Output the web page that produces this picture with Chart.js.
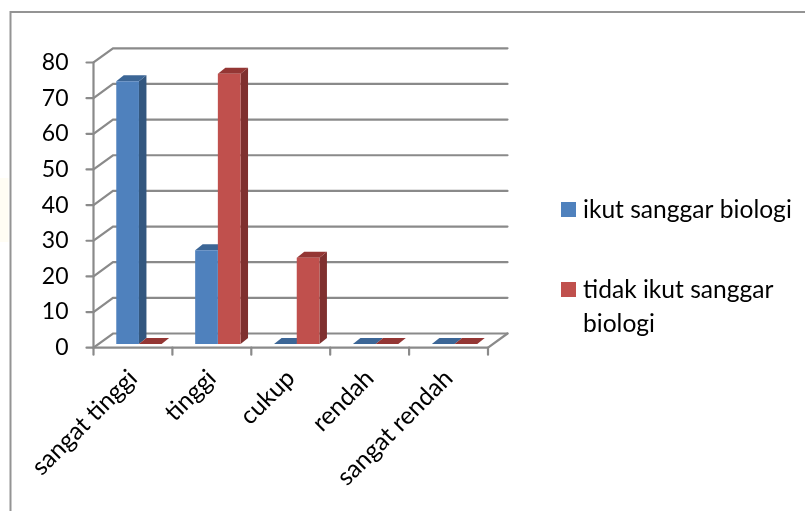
<!DOCTYPE html>
<html><head><meta charset="utf-8">
<style>html,body{margin:0;padding:0;background:#fff}canvas{display:block}</style>
<script src="https://cdn.jsdelivr.net/npm/chart.js@4"></script>
</head><body><canvas id="c" width="805" height="511"></canvas>
<script>
const categories = ["sangat tinggi","tinggi","cukup","rendah","sangat rendah"];
const ikutValues = [73.7,26.3,0,0,0];
const tidakValues = [0,75.8,24.2,0,0];
const seriesNames = ["ikut sanggar biologi","tidak ikut sanggar biologi"];
const legendLines = [["ikut sanggar biologi"],["tidak ikut sanggar","biologi"]];
const yTicks = [0,10,20,30,40,50,60,70,80];
const FONT = 'Lato';
const FS_Y = 23;
const FS = 24.6;
const GRID = '#8a8a8a';
const shades = [
 {front:'#4F81BD',side:'#33577F',top:'#3C6696'},
 {front:'#C0504D',side:'#7F302F',top:'#943634'}
];
const depth = {x:19.5,y:14.2};      // floor depth
const barOff = {x:6,y:3.8};         // bar front plane offset
const barD = {x:7.5,y:6};           // bar depth
function poly(ctx,pts,fill){ctx.beginPath();pts.forEach((p,i)=>i?ctx.lineTo(p[0],p[1]):ctx.moveTo(p[0],p[1]));ctx.closePath();ctx.fillStyle=fill;ctx.fill();}
const frame3d = {
 id:'frame3d',
 beforeDraw(chart){
  const ctx=chart.ctx;
  ctx.save();ctx.fillStyle='#fff';ctx.fillRect(0,0,805,511);
  ctx.fillStyle='#FFFDF4';ctx.fillRect(0,178,8.5,64);
  ctx.strokeStyle='#949494';ctx.lineWidth=2;
  ctx.beginPath();ctx.moveTo(10.5,511);ctx.lineTo(10.5,12);ctx.lineTo(805,12);ctx.stroke();
  ctx.restore();
 },
 beforeDatasetsDraw(chart){
  const ctx=chart.ctx,{x,y}=chart.scales,a=chart.chartArea;
  ctx.save();ctx.strokeStyle=GRID;ctx.lineWidth=2.2;ctx.lineCap='round';
  yTicks.forEach(v=>{
   const py=y.getPixelForValue(v);
   ctx.beginPath();ctx.moveTo(a.left-7,py);ctx.lineTo(a.left,py);
   ctx.lineTo(a.left+depth.x,py-depth.y);ctx.lineTo(a.right+depth.x,py-depth.y);ctx.stroke();
  });
  ctx.beginPath();ctx.moveTo(a.left,y.getPixelForValue(80));ctx.lineTo(a.left,a.bottom);ctx.lineTo(a.right,a.bottom);
  ctx.lineTo(a.right+depth.x,a.bottom-depth.y);ctx.stroke();
  for(let i=0;i<=categories.length;i++){
   const px=a.left+(a.right-a.left)*i/categories.length;
   ctx.beginPath();ctx.moveTo(px,a.bottom);ctx.lineTo(px,a.bottom+7);ctx.stroke();
  }
  ctx.restore();
  ctx.save();ctx.translate(barOff.x,-barOff.y);
  chart.data.datasets.forEach((ds,di)=>{
   chart.getDatasetMeta(di).data.forEach(el=>{
    const l=el.x-el.width/2,r=el.x+el.width/2,t=el.y,b=el.base,s=shades[di];
    poly(ctx,[[r,t],[r+barD.x,t-barD.y],[r+barD.x,b-barD.y],[r,b]],s.side);
    poly(ctx,[[l,t],[r,t],[r+barD.x,t-barD.y],[l+barD.x,t-barD.y]],s.top);
   });
  });
  // bar fronts are drawn by the library inside this shifted frame
 },
 afterDatasetsDraw(chart){
  chart.ctx.restore();
  const ctx=chart.ctx;
  ctx.save();ctx.textBaseline='middle';ctx.textAlign='left';ctx.font=FS+'px '+FONT;
  const rows=[{box:202,lines:[210.5]},{box:282,lines:[290.5,324]}];
  rows.forEach((r,i)=>{
   ctx.fillStyle=shades[i].front;ctx.fillRect(561,r.box,15,15);
   ctx.fillStyle='#000';
   legendLines[i].forEach((t,j)=>ctx.fillText(t,583,r.lines[j]));
  });
  ctx.restore();
 }
};
new Chart(document.getElementById('c'),{
 type:'bar',
 data:{labels:categories,datasets:[
  {label:seriesNames[0],data:ikutValues,backgroundColor:shades[0].front,borderWidth:0,clip:false},
  {label:seriesNames[1],data:tidakValues,backgroundColor:shades[1].front,borderWidth:0,clip:false}
 ]},
 options:{
  responsive:false,animation:false,devicePixelRatio:1,
  layout:{padding:{left:0,top:62.5,right:317,bottom:0}},
  datasets:{bar:{categoryPercentage:0.575,barPercentage:1}},
  plugins:{legend:{display:false},title:{display:false},tooltip:{enabled:false}},
  scales:{
   x:{afterFit(s){s.height=163.3;},grid:{display:false},border:{display:false},
      ticks:{color:'#000',font:{family:FONT,size:FS},minRotation:45,maxRotation:45,autoSkip:false,padding:8}},
   y:{min:0,max:80,afterFit(s){s.width=93.5;},grid:{display:false},border:{display:false},
      afterBuildTicks(s){s.ticks=yTicks.map(v=>({value:v}));},
      ticks:{color:'#000',font:{family:FONT,size:FS_Y},padding:17}}
  }
 },
 plugins:[frame3d]
});
</script></body></html>
